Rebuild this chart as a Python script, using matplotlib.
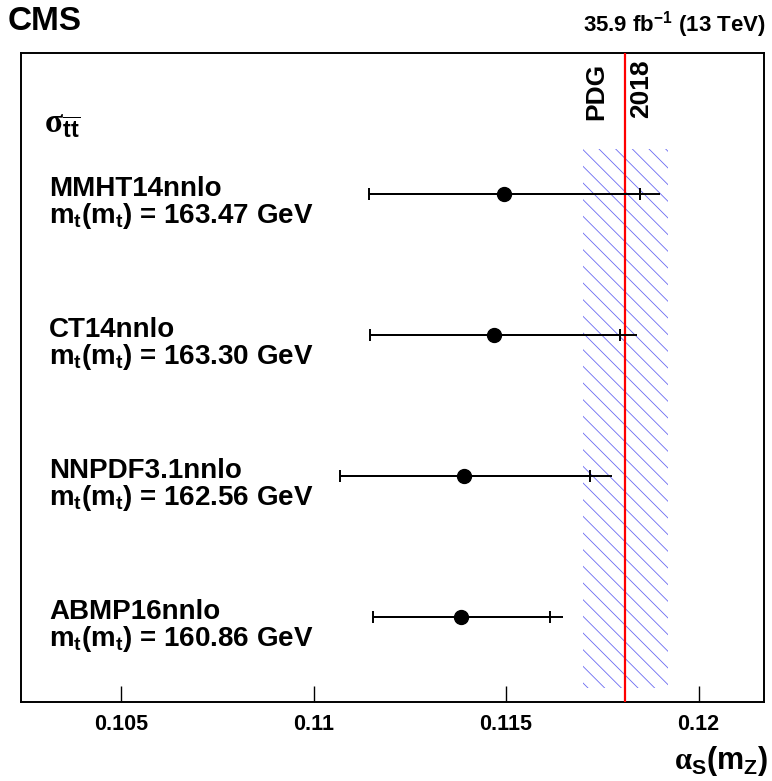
import matplotlib
matplotlib.use("Agg")
import matplotlib.pyplot as plt

# alpha_s extraction per PDF set (top to bottom)
pdf_sets = ["MMHT14nnlo", "CT14nnlo", "NNPDF3.1nnlo", "ABMP16nnlo"]
mt_values = ["163.47", "163.30", "162.56", "160.86"]
alphas = [0.11495, 0.11470, 0.11392, 0.11383]
err_lo = [0.00352, 0.00324, 0.00324, 0.00228]
err_hi = [0.00352, 0.00325, 0.00327, 0.00230]      # inner bar (with caps)
err_hi_tot = [0.00406, 0.00370, 0.00383, 0.00265]  # outer line
ypos = [4, 3, 2, 1]

pdg_value = 0.1181
pdg_err = 0.0011

plt.rcParams["font.family"] = ["Liberation Sans", "DejaVu Sans"]
plt.rcParams["font.weight"] = "bold"
plt.rcParams["mathtext.fontset"] = "custom"
plt.rcParams["mathtext.rm"] = "Liberation Serif"
plt.rcParams["mathtext.bf"] = "Liberation Sans:bold"
plt.rcParams["mathtext.it"] = "Liberation Sans:italic"
plt.rcParams["mathtext.default"] = "bf"
plt.rcParams["hatch.linewidth"] = 0.6
hatch_col = "#6a6af2"

fig = plt.figure(figsize=(7.72, 7.81), dpi=100)
ax = fig.add_axes([0.0272, 0.1015, 0.9624, 0.831])

# PDG band and central value
ax.fill_betweenx([0.5, 4.32], pdg_value - pdg_err, pdg_value + pdg_err,
                 facecolor="none", edgecolor=hatch_col, hatch="\\\\", lw=0)
ax.axvline(pdg_value, color="red", lw=1.6, zorder=3)

# total uncertainty lines, then bars with caps
lo_edge = [a - e for a, e in zip(alphas, err_lo)]
hi_edge = [a + e for a, e in zip(alphas, err_hi_tot)]
ax.hlines(ypos, lo_edge, hi_edge, color="black", lw=1.4, zorder=4)
ax.errorbar(alphas, ypos, xerr=[err_lo, err_hi], fmt="o", color="black",
            ms=10, lw=1.4, capsize=4.5, capthick=1.4, zorder=5)

for name, mt, y in zip(pdf_sets, mt_values, ypos):
    ax.text(0.10313, y - 0.015, name, fontsize=20, fontweight="bold",
            ha="left", va="baseline")
    ax.text(0.10313, y - 0.205, r"$m_t(m_t)$ = " + mt + " GeV",
            fontsize=20, fontweight="bold", ha="left", va="baseline")

ax.text(0.1030, 4.50, r"$\mathrm{\sigma}_{\overline{tt}}$", fontsize=24,
        ha="left", va="center")
ax.text(0.11735, 4.93, "PDG", rotation=90, fontsize=19, fontweight="bold",
        ha="center", va="top")
ax.text(0.11852, 4.95, "2018", rotation=90, fontsize=19, fontweight="bold",
        ha="center", va="top")

ax.set_xlim(0.1024, 0.1217)
ax.set_ylim(0.4, 5.0)
ax.set_yticks([])
ax.set_xticks([0.105, 0.11, 0.115, 0.12])
ax.set_xticklabels(["0.105", "0.11", "0.115", "0.12"])
ax.tick_params(axis="x", direction="in", length=11.5, width=1, pad=9,
               labelsize=15.5)
for lab in ax.get_xticklabels():
    lab.set_fontweight("bold")
for sp in ax.spines.values():
    sp.set_linewidth(1.4)

fig.text(0.995, 0.004, r"$\mathrm{\alpha}_S(m_Z)$", fontsize=22,
         ha="right", va="bottom")
fig.text(0.010, 0.962, "CMS", fontsize=24, fontweight="bold",
         ha="left", va="baseline")
fig.text(0.992, 0.960, r"35.9 fb$^{-1}$ (13 TeV)", fontsize=16,
         fontweight="bold", ha="right", va="baseline")

fig.savefig("out.png", dpi=100)
